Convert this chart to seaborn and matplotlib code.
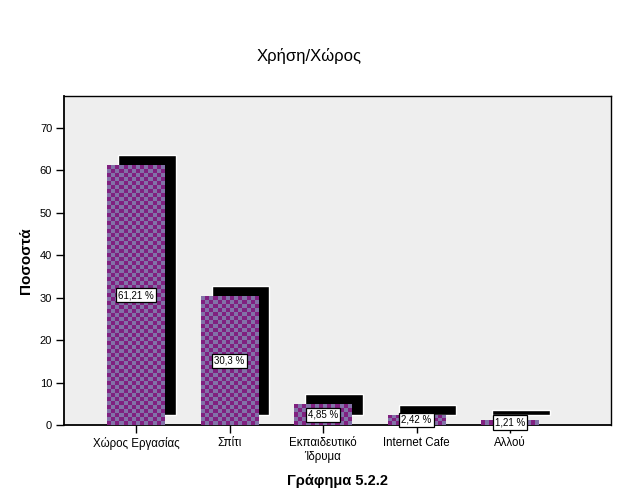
import numpy as np
import matplotlib
matplotlib.use("Agg")
import matplotlib.pyplot as plt
import seaborn as sns

categories = ["Χώρος Εργασίας", "Σπίτι", "Εκπαιδευτικό\nΊδρυμα", "Internet Cafe", "Αλλού"]
values = [61.21, 30.3, 4.85, 2.42, 1.21]
value_labels = ["61,21 %", "30,3 %", "4,85 %", "2,42 %", "1,21 %"]
yticks = [0, 10, 20, 30, 40, 50, 60, 70]

sns.set_theme(style="white")
plt.rcParams['font.family'] = ['Liberation Sans', 'DejaVu Sans']
plt.rcParams['text.color'] = 'black'
plt.rcParams['axes.labelcolor'] = 'black'
plt.rcParams['xtick.color'] = 'black'
plt.rcParams['ytick.color'] = 'black'

W, H, DPI = 623, 499, 100
fig = plt.figure(figsize=(W / DPI, H / DPI), dpi=DPI)
# axes box in pixels: left 64, right 611, top 96, bottom 425
ax = fig.add_axes([64 / W, 1 - 425 / H, (611 - 64) / W, (425 - 96) / H])
ax.set_facecolor("#eeeeee")

xlim = (-0.77, 5.08)
ylim = (0, 77.5)
bar_w = 0.61
px_per_x = (611 - 64) / (xlim[1] - xlim[0])
px_per_y = (425 - 96) / (ylim[1] - ylim[0])
dx = 11 / px_per_x
dy = 10 / px_per_y

x_pos = np.arange(len(values))
# shadow bars
ax.bar(x_pos + dx, values, width=bar_w, bottom=dy, color="black", zorder=1)

# main bars via seaborn
sns.barplot(x=categories, y=values, ax=ax, color="#802080", width=bar_w,
            saturation=1, edgecolor="none", zorder=2)

# checkerboard fill clipped to each bar
c1 = np.array([0x80, 0x20, 0x80]) / 255
c2 = np.array([0x82, 0x72, 0xa8]) / 255
cell = 4.0
for p in ax.patches[len(values):]:
    x0, y0 = p.get_x(), p.get_y()
    w, h = p.get_width(), p.get_height()
    nx = max(1, int(round(w * px_per_x / cell)))
    ny = max(1, int(round(h * px_per_y / cell)))
    ii, jj = np.meshgrid(np.arange(nx), np.arange(ny))
    mask = ((ii + jj) % 2).astype(bool)
    img = np.where(mask[..., None], c2, c1)
    im = ax.imshow(img, extent=(x0, x0 + w, y0, y0 + h), origin="lower",
                   interpolation="nearest", aspect="auto", zorder=3)
    im.set_clip_path(p)

for xi, v, lab in zip(x_pos, values, value_labels):
    ax.text(xi, v / 2, lab, ha="center", va="center", fontsize=7, zorder=5,
            bbox=dict(boxstyle="square,pad=0.22", fc="white", ec="black", lw=0.9))

ax.set_xlim(*xlim)
ax.set_ylim(*ylim)
ax.set_yticks(yticks)
ax.set_yticklabels([str(t) for t in yticks], fontsize=8)
ax.set_xticks(x_pos)
ax.set_xticklabels(categories, fontsize=8.3)
ax.tick_params(axis="both", direction="out", length=6, width=1, color="black",
               left=True, bottom=True, pad=2.5)
for s in ax.spines.values():
    s.set_visible(True)
    s.set_color("black")
    s.set_linewidth(1)
ax.spines["left"].set_linewidth(1.3)
ax.spines["bottom"].set_linewidth(1.3)

ax.set_ylabel("Ποσοστά", fontsize=11, fontweight="bold", labelpad=5)
ax.set_xlabel("Γράφημα 5.2.2", fontsize=10.5, fontweight="bold", labelpad=8)
fig.text(309 / W, 1 - 56 / H, "Χρήση/Χώρος", ha="center", va="center", fontsize=12)

fig.savefig("out.png", dpi=DPI, facecolor="white")
